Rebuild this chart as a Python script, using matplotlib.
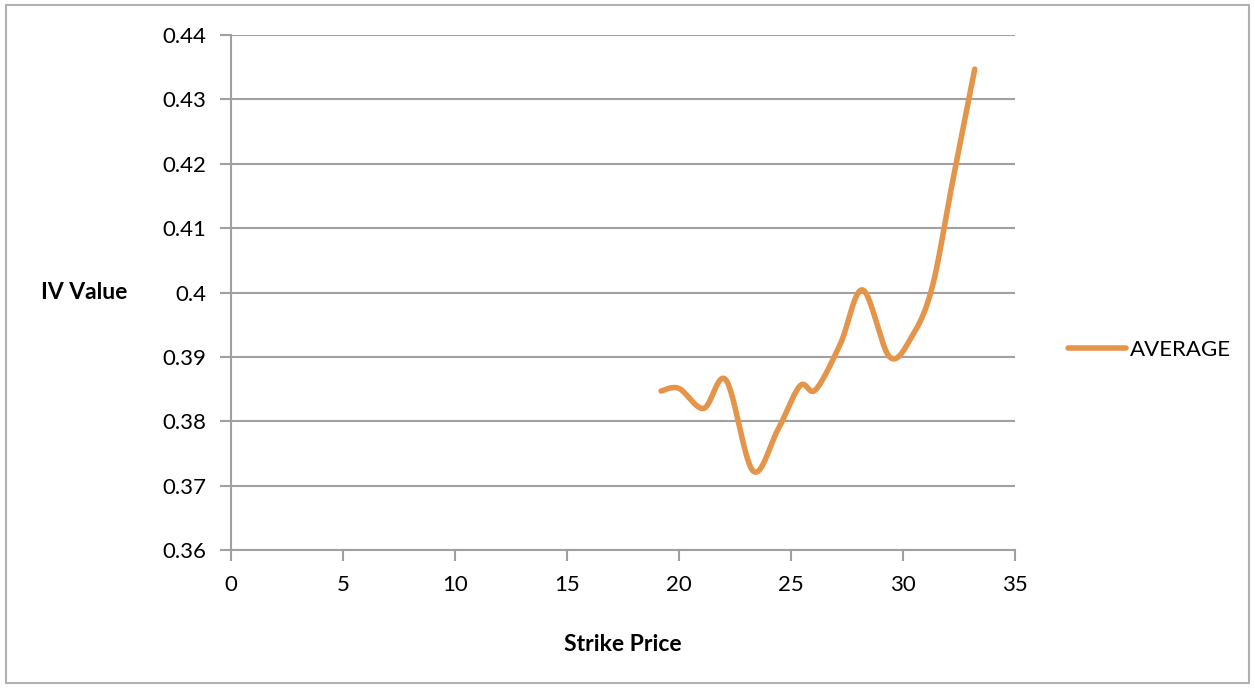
import numpy as np
import matplotlib
matplotlib.use("Agg")
import matplotlib.pyplot as plt
from matplotlib.patches import Rectangle
from matplotlib.lines import Line2D

# strike vs averaged implied volatility
strike = [19.2, 20.0, 21.1, 22.1, 23.3, 24.4, 25.4, 26.1, 27.2, 28.2, 29.4, 30.4, 31.3, 32.2, 33.2]
iv_avg = [0.3847, 0.3851, 0.3820, 0.3864, 0.3723, 0.3786, 0.3855, 0.3849, 0.3920,
          0.4004, 0.3900, 0.3932, 0.4008, 0.4170, 0.4347]
series_name = "AVERAGE"
xticks = [0, 5, 10, 15, 20, 25, 30, 35]
yticks = [0.36, 0.37, 0.38, 0.39, 0.40, 0.41, 0.42, 0.43, 0.44]
ytick_labels = ["0.36", "0.37", "0.38", "0.39", "0.4", "0.41", "0.42", "0.43", "0.44"]


def smooth(x, y, n=30):
    # Excel-style smoothed line: cubic bezier with catmull-rom control points
    x = np.asarray(x, float); y = np.asarray(y, float)
    px = np.concatenate([[x[0]], x, [x[-1]]])
    py = np.concatenate([[y[0]], y, [y[-1]]])
    t = np.linspace(0, 1, n)
    xs, ys = [], []
    for i in range(1, len(px) - 2):
        p0 = np.array([px[i], py[i]]); p3 = np.array([px[i + 1], py[i + 1]])
        p1 = p0 + (np.array([px[i + 1], py[i + 1]]) - np.array([px[i - 1], py[i - 1]])) / 6
        p2 = p3 - (np.array([px[i + 2], py[i + 2]]) - np.array([px[i], py[i]])) / 6
        b = ((1 - t) ** 3)[:, None] * p0 + (3 * (1 - t) ** 2 * t)[:, None] * p1 \
            + (3 * (1 - t) * t ** 2)[:, None] * p2 + (t ** 3)[:, None] * p3
        xs.append(b[:, 0]); ys.append(b[:, 1])
    return np.concatenate(xs), np.concatenate(ys)


plt.rcParams['font.family'] = ['Lato', 'DejaVu Sans']
orange = "#E5954A"
grey = "#A0A0A0"

fig = plt.figure(figsize=(12.55, 6.89), dpi=100)
fig.patches.append(Rectangle((0.005, 0.008), 0.99, 0.985, transform=fig.transFigure,
                             fill=False, edgecolor="#B0B0B0", linewidth=1.5))
ax = fig.add_axes([0.184, 0.2017, 0.6248, 0.7475])

sx, sy = smooth(strike, iv_avg)
ax.plot(sx, sy, color=orange, linewidth=4, solid_capstyle="round")

ax.set_xlim(0, 35); ax.set_ylim(0.36, 0.44)
ax.set_xticks(xticks)
ax.set_yticks(yticks); ax.set_yticklabels(ytick_labels)
ax.yaxis.grid(True, color=grey, linewidth=1.5)
ax.set_axisbelow(True)
for s in ["top", "right"]:
    ax.spines[s].set_visible(False)
for s in ["left", "bottom"]:
    ax.spines[s].set_color(grey); ax.spines[s].set_linewidth(1.5)
ax.tick_params(axis="both", colors=grey, width=1.5, length=8, labelsize=16,
               labelcolor="black", direction="out")
ax.tick_params(axis="y", pad=10)
ax.tick_params(axis="x", pad=10)

ax.set_xlabel("Strike Price", fontsize=16.5, fontweight="bold", labelpad=28)
ax.set_ylabel("IV Value", fontsize=16.5, fontweight="bold", rotation=0, labelpad=56, va="center")

handle = Line2D([], [], color=orange, linewidth=4, solid_capstyle="round")
fig.legend([handle], [series_name], loc="center left", bbox_to_anchor=(0.835, 0.492),
           frameon=False, fontsize=16, handlelength=2.6, handletextpad=0.2)

fig.savefig("out.png", dpi=100)
